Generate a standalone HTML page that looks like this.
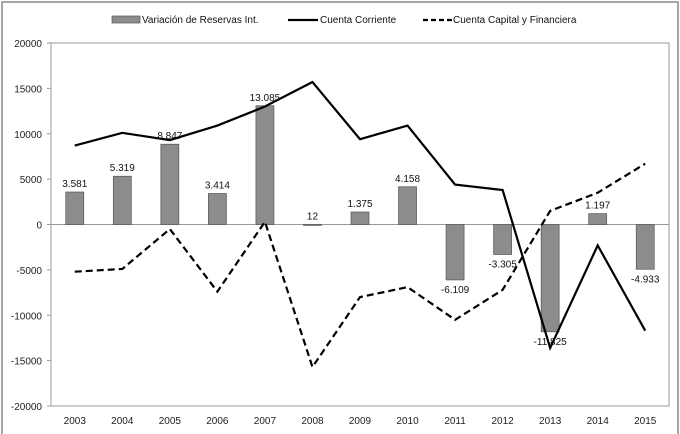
<!DOCTYPE html>
<html><head><meta charset="utf-8"><style>
body{margin:0;background:#fff}
svg{display:block;font-family:"Liberation Sans",sans-serif}
</style></head><body>
<svg id="c" width="680" height="434">
<rect x="2" y="2" width="676" height="440" fill="#fff" stroke="#888" stroke-width="1.5"/>
</svg>
<script>
const categories=["2003","2004","2005","2006","2007","2008","2009","2010","2011","2012","2013","2014","2015"];
const reservas=[3581,5319,8847,3414,13085,12,1375,4158,-6109,-3305,-11825,1197,-4933];
const reservasLabels=["3.581","5.319","8.847","3.414","13.085","12","1.375","4.158","-6.109","-3.305","-11.825","1.197","-4.933"];
const corriente=[8700,10100,9300,10900,13000,15700,9400,10900,4400,3800,-13600,-2300,-11700];
const capital=[-5200,-4900,-500,-7400,300,-15700,-8000,-6900,-10500,-7200,1500,3500,6700];
const yTicks=[20000,15000,10000,5000,0,-5000,-10000,-15000,-20000];
const NS="http://www.w3.org/2000/svg";
const svg=document.getElementById('c');
const L=51,R=669,T=43,B=406,yMin=-20000,yMax=20000;
const band=(R-L)/categories.length;
const x=i=>L+band*(i+0.5);
const y=v=>B-(v-yMin)/(yMax-yMin)*(B-T);
function mk(t,a,parent){const e=document.createElementNS(NS,t);for(const k in a)e.setAttribute(k,a[k]);(parent||svg).appendChild(e);return e;}
let e;
e=mk('rect',{x:L,y:T,width:R-L,height:B-T,fill:'none',stroke:'#999'});


yTicks.forEach(v=>{
 e=mk('text',{x:L-9,y:y(v)+4,'text-anchor':'end','font-size':10,fill:'#222'});e.textContent=v;
 
 
 mk('line',{x1:L-4,x2:L,y1:y(v),y2:y(v),stroke:'#999'});
});
e=mk('line',{x1:L,x2:R,y1:y(0),y2:y(0),stroke:'#999'});


categories.forEach((c,i)=>{
 e=mk('text',{x:x(i),y:424,'text-anchor':'middle','font-size':10,fill:'#222'});e.textContent=c;
 
 
});
const bw=18;
reservas.forEach((v,i)=>{
 const y0=y(0),y1=y(v);
 e=mk('rect',{x:x(i)-bw/2,y:Math.min(y0,y1),width:bw,height:Math.max(1,Math.abs(y1-y0)),fill:'#8c8c8c',stroke:'#555','stroke-width':0.7});
 
 
});
function line(arr,dash,name){
 e=mk('polyline',{points:arr.map((v,i)=>x(i)+','+y(v)).join(' '),fill:'none',stroke:'#000','stroke-width':2.2,'stroke-dasharray':dash});
 
 
}
line(corriente,'none','line-cuenta-corriente');
line(capital,'7,4','line-cuenta-capital');
reservas.forEach((v,i)=>{
 const ly=v>=0?y(v)-5:y(v)+13;
 e=mk('text',{x:x(i),y:ly,'text-anchor':'middle','font-size':10,fill:'#111'});e.textContent=reservasLabels[i];
 
 
});
const g=mk('g',{});


e=mk('rect',{x:112,y:16,width:28,height:7,fill:'#8c8c8c',stroke:'#555','stroke-width':0.7},g);


e=mk('text',{x:142,y:23,'font-size':10,fill:'#111'},g);e.textContent='Variación de Reservas Int.';


mk('line',{x1:288,x2:318,y1:20,y2:20,stroke:'#000','stroke-width':2.2},g);
e=mk('text',{x:320,y:23,'font-size':10,fill:'#111'},g);e.textContent='Cuenta Corriente';


mk('line',{x1:423,x2:452,y1:20,y2:20,stroke:'#000','stroke-width':2.2,'stroke-dasharray':'5,3'},g);
e=mk('text',{x:453,y:23,'font-size':10,fill:'#111'},g);e.textContent='Cuenta Capital y Financiera';


</script>
</body></html>
